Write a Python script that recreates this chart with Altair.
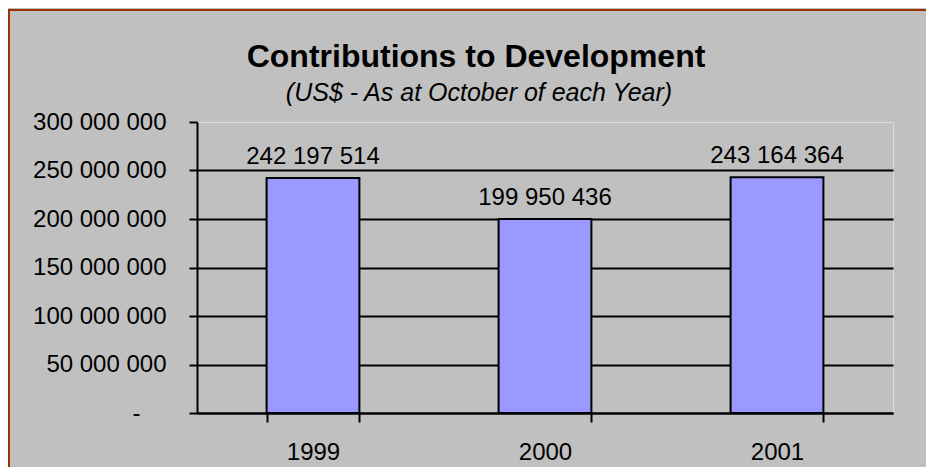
import altair as alt
import pandas as pd

years = ["1999", "2000", "2001"]
contributions = [242197514, 199950436, 243164364]
y_ticks = [0, 50000000, 100000000, 150000000, 200000000, 250000000, 300000000]
title_text = "Contributions to Development"
subtitle_text = "(US$ - As at October of each Year)"

df = pd.DataFrame({"year": years, "value": contributions})

FONT = "Liberation Sans"
label_expr = ("datum.value == 0 ? '-' : "
              "replace(format(datum.value, ',d'), regexp(',', 'g'), ' ')")

x_enc = alt.X("year:N", sort=years,
              scale=alt.Scale(paddingInner=0.6, paddingOuter=0.3),
              axis=alt.Axis(title=None, labelAngle=0, tickBand="extent",
                            tickSize=9, tickWidth=2, domainWidth=2,
                            labelPadding=18, labelFontSize=24,
                            labelColor="black", domainColor="black",
                            tickColor="black", grid=False, labelFont=FONT))
y_enc = alt.Y("value:Q", scale=alt.Scale(domain=[0, 300000000], nice=False),
              axis=alt.Axis(title=None, values=y_ticks, labelExpr=label_expr,
                            tickSize=8, tickWidth=2, domainWidth=2, gridWidth=2,
                            labelPadding={"condition": {"test": "datum.value == 0", "value": 49}, "value": 23},
                            labelFontSize=24,
                            labelColor="black", domainColor="black",
                            tickColor="black", gridColor="black",
                            gridOpacity={"condition": {"test": "datum.value >= 300000000", "value": 0}, "value": 1},
                            labelFont=FONT))

base = alt.Chart(df)

bars = base.mark_bar(color="#9999FF", stroke="black", strokeWidth=2).encode(
    x=x_enc, y=y_enc)

labels = base.transform_calculate(
    lbl="replace(format(datum.value, ',d'), regexp(',', 'g'), ' ')"
).mark_text(fontSize=24, font=FONT, color="black", baseline="alphabetic",
            dy=-14).encode(
    x=alt.X("year:N", sort=years), y="value:Q", text="lbl:N")

frame_data = alt.Data(values=[{"k": 1}])
left_border = alt.Chart(frame_data).mark_rule(color="#993300", strokeWidth=2).encode(
    x=alt.value(-188), y=alt.value(-112), y2=alt.value(400))
top_border = alt.Chart(frame_data).mark_rule(color="#993300", strokeWidth=2).encode(
    x=alt.value(-189), x2=alt.value(760), y=alt.value(-112))

title_mark = alt.Chart(alt.Data(values=[{"t": title_text}])).mark_text(
    font=FONT, fontSize=32, fontWeight="bold", color="black",
    baseline="alphabetic", align="center").encode(
    x=alt.value(279), y=alt.value(-55), text="t:N")
subtitle_mark = alt.Chart(alt.Data(values=[{"t": subtitle_text}])).mark_text(
    font=FONT, fontSize=25, fontStyle="italic", color="black",
    baseline="alphabetic", align="center").encode(
    x=alt.value(282), y=alt.value(-21), text="t:N")

chart = alt.layer(bars, labels, left_border, top_border, title_mark, subtitle_mark).properties(
    width=696, height=291,
    autosize=alt.AutoSizeParams(type="none"),
    padding={"left": 189, "top": 114, "right": 33, "bottom": 54},
    background="#C0C0C0",
).configure_view(fill="white", stroke="#808080", strokeWidth=1.5
).configure(font=FONT)

chart.save("out.html", embed_options={"renderer": "svg", "actions": False})
